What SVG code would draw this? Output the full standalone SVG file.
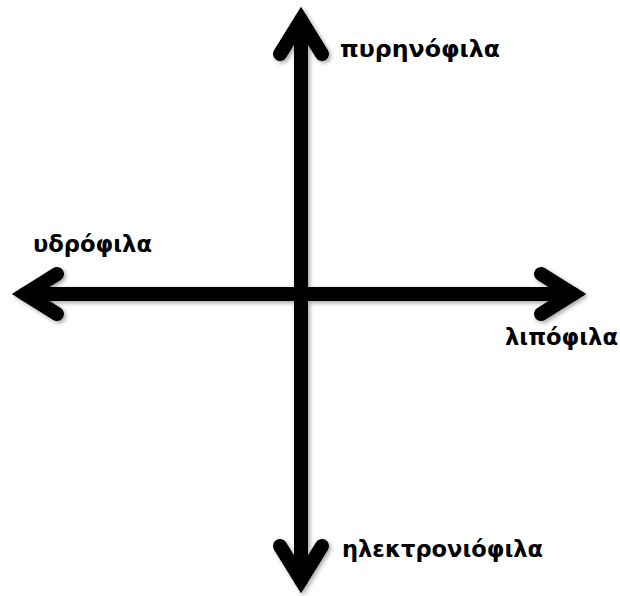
<svg xmlns="http://www.w3.org/2000/svg" width="620" height="596" viewBox="0 0 620 596">
<defs>
<filter id="sh" x="-10%" y="-10%" width="120%" height="120%">
<feDropShadow dx="2" dy="2" stdDeviation="2" flood-color="#000" flood-opacity="0.35"/>
</filter>
<style>
.ax{fill:none;stroke:#000;stroke-width:14;stroke-linecap:round;stroke-linejoin:miter;stroke-miterlimit:10}
.lbl{font-family:"DejaVu Sans","Liberation Sans",sans-serif;font-weight:bold;font-size:23px;fill:#000}
</style>
</defs>
<rect width="620" height="596" fill="#fff"/>
<g id="connectors" filter="url(#sh)">
<path class="ax" d="M301,20 V580"/>
<path class="ax" d="M280,54 L301,20 L322,54"/>
<path class="ax" d="M280,546 L301,580 L322,546"/>
<path class="ax" d="M25,294 H573"/>
<path class="ax" d="M57,274 L25,294 L57,314"/>
<path class="ax" d="M541,274 L573,294 L541,314"/>
</g>
<g id="n-top"><text class="lbl" x="340" y="57" textLength="160" lengthAdjust="spacingAndGlyphs">πυρηνόφιλα</text></g>
<g id="n-left"><text class="lbl" x="33" y="252" textLength="119" lengthAdjust="spacingAndGlyphs">υδρόφιλα</text></g>
<g id="n-right"><text class="lbl" x="505" y="345" textLength="113" lengthAdjust="spacingAndGlyphs">λιπόφιλα</text></g>
<g id="n-bottom"><text class="lbl" x="342" y="557" textLength="201" lengthAdjust="spacingAndGlyphs">ηλεκτρονιόφιλα</text></g>
</svg>
